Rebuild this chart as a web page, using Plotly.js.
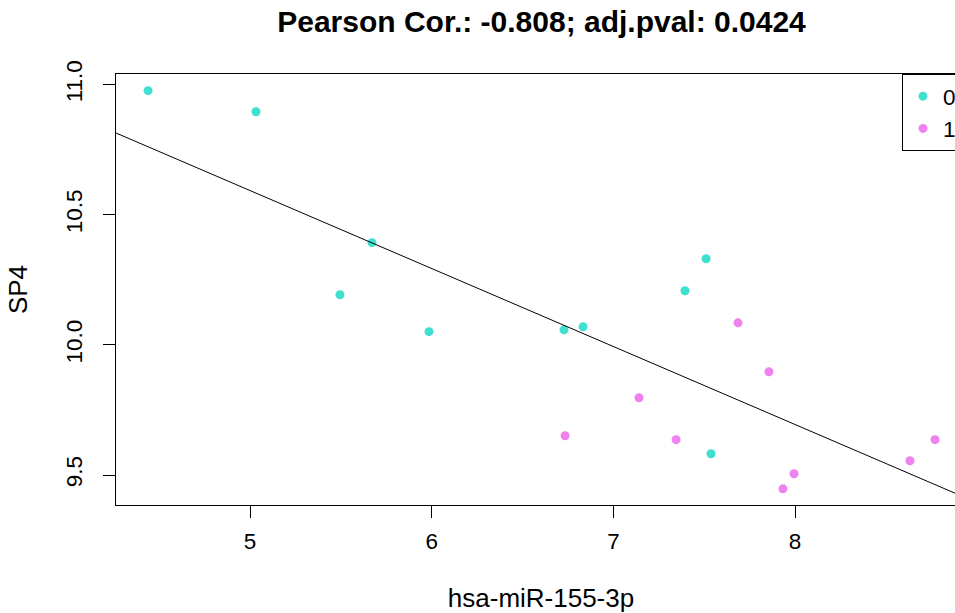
<!DOCTYPE html>
<html>
<head>
<meta charset="utf-8">
<script src="https://cdn.plot.ly/plotly-3.0.1.min.js"></script>
<style>
  html, body { margin: 0; padding: 0; overflow: hidden; background: #ffffff; }
  #chart { width: 1000px; height: 613px; }
</style>
</head>
<body>
<div id="chart"></div>
<script>
// Group 0 (turquoise)
const xGroup0 = [4.439, 5.033, 5.671, 5.495, 5.985, 6.728, 6.833, 7.394, 7.510, 7.537];
const yGroup0 = [10.977, 10.896, 10.393, 10.193, 10.051, 10.058, 10.070, 10.208, 10.331, 9.582];
// Group 1 (violet)
const xGroup1 = [6.734, 7.141, 7.345, 7.686, 7.856, 7.933, 7.994, 8.632, 8.770];
const yGroup1 = [9.651, 9.797, 9.636, 10.085, 9.897, 9.447, 9.505, 9.555, 9.636];

const groupNames = ["0", "1"];
const xTicks = [5, 6, 7, 8];
const yTicks = [9.5, 10.0, 10.5, 11.0];
const yTickText = ["9.5", "10.0", "10.5", "11.0"];

const titleText = "Pearson Cor.: -0.808; adj.pval: 0.0424";
const xLabel = "hsa-miR-155-3p";
const yLabel = "SP4";

const xRange = [4.2625, 8.9405];
const yRange = [9.385, 11.041];

// least squares fit on all points (abline(lm(y ~ x)))
const allX = xGroup0.concat(xGroup1);
const allY = yGroup0.concat(yGroup1);
const n = allX.length;
const mx = allX.reduce((a, b) => a + b, 0) / n;
const my = allY.reduce((a, b) => a + b, 0) / n;
let sxy = 0, sxx = 0;
for (let i = 0; i < n; i++) { sxy += (allX[i] - mx) * (allY[i] - my); sxx += (allX[i] - mx) ** 2; }
const slope = sxy / sxx;
const intercept = my - slope * mx;
const lineX = [xRange[0], xRange[1]];
const lineY = lineX.map(v => intercept + slope * v);

const FONT = "Liberation Sans, Arial, sans-serif";

const traces = [
  { x: xGroup0, y: yGroup0, type: "scatter", mode: "markers", name: groupNames[0],
    marker: { color: "#40E0D0", size: 9 }, cliponaxis: true },
  { x: xGroup1, y: yGroup1, type: "scatter", mode: "markers", name: groupNames[1],
    marker: { color: "#EE82EE", size: 9 }, cliponaxis: true },
  { x: lineX, y: lineY, type: "scatter", mode: "lines", showlegend: false,
    line: { color: "#000000", width: 1 }, hoverinfo: "skip" }
];

const axisCommon = {
  showgrid: false, zeroline: false, showline: true, mirror: true,
  linecolor: "#000000", linewidth: 1,
  ticks: "outside", ticklen: 12, tickwidth: 1, tickcolor: "#000000",
  tickfont: { family: FONT, size: 22.5, color: "#000000" }
};

const layout = {
  width: 1000, height: 613,
  margin: { l: 116, r: 34, t: 74, b: 108 },
  paper_bgcolor: "#ffffff", plot_bgcolor: "#ffffff",
  font: { family: FONT, color: "#000000" },
  title: { text: "<b>" + titleText + "</b>", font: { family: FONT, size: 30, color: "#000000" },
           xref: "container", x: 0.5415, xanchor: "center", yref: "container", y: 1 - 21 / 613, yanchor: "middle" },
  xaxis: Object.assign({}, axisCommon, {
    range: xRange, tickmode: "array", tickvals: xTicks, ticktext: xTicks.map(String),
    ticklabelstandoff: 4,
    title: { text: xLabel, font: { family: FONT, size: 26, color: "#000000" }, standoff: 35 }
  }),
  yaxis: Object.assign({}, axisCommon, {
    range: yRange, tickmode: "array", tickvals: yTicks, ticktext: yTickText,
    tickangle: -90, ticklabelstandoff: 12,
    title: { text: yLabel, font: { family: FONT, size: 26, color: "#000000" }, standoff: 26 }
  }),
  legend: {
    x: (902 - 116) / 850, xanchor: "left", y: 1, yanchor: "top",
    bordercolor: "#000000", borderwidth: 1, bgcolor: "#ffffff",
    font: { family: FONT, size: 22.5, color: "#000000" },
    tracegroupgap: 0, itemwidth: 30
  },
  showlegend: true
};

Plotly.newPlot("chart", traces, layout, { displayModeBar: false, staticPlot: true });
</script>
</body>
</html>
